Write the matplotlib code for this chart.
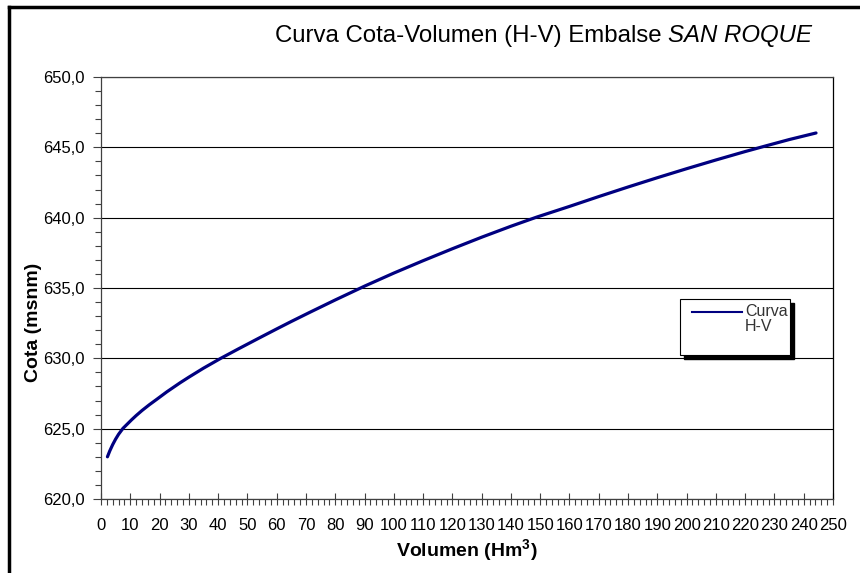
import numpy as np
import matplotlib.pyplot as plt
from matplotlib.ticker import MultipleLocator, FuncFormatter
from matplotlib.patches import Rectangle
from matplotlib.lines import Line2D

plt.rcParams['font.family'] = ['Liberation Sans', 'DejaVu Sans']
plt.rcParams['mathtext.fontset'] = 'custom'
plt.rcParams['mathtext.rm'] = 'Liberation Sans:bold'
plt.rcParams['mathtext.bf'] = 'Liberation Sans:bold'

# curva cota-volumen
volumen = [2.2, 3.0, 4.0, 5.0, 6.0, 7.5, 9.0, 10.5, 12.0, 14.0, 16.5, 19.0, 22.5, 27.0, 30.0,
           35.0, 40.9, 47.0, 53.6, 60.0, 65.0, 71.4, 80.0, 90.2, 100.0, 110.0, 120.0, 130.0,
           140.0, 148.8, 160.0, 170.0, 180.0, 190.0, 200.0, 210.0, 220.0, 227.0, 235.0, 244.2]
cota = [623.0, 623.42, 623.87, 624.26, 624.6, 625.02, 625.33, 625.64, 625.93, 626.29, 626.7,
        627.08, 627.62, 628.26, 628.66, 629.3, 630.0, 630.68, 631.4, 632.09, 632.62, 633.28,
        634.15, 635.15, 636.06, 636.94, 637.79, 638.61, 639.39, 640.04, 640.8, 641.5, 642.18,
        642.84, 643.48, 644.1, 644.7, 645.1, 645.55, 646.02]

W, H = 860, 573
fig = plt.figure(figsize=(W / 100, H / 100), dpi=100)
ax = fig.add_axes([101 / W, 1 - 499 / H, (833 - 101) / W, (499 - 77) / H])

ax.plot(volumen, cota, color='#000080', lw=2.3, solid_capstyle='round',
        solid_joinstyle='round', zorder=3)

ax.set_xlim(0, 250)
ax.set_ylim(620, 650)
ax.xaxis.set_major_locator(MultipleLocator(10))
ax.xaxis.set_minor_locator(MultipleLocator(2))
ax.yaxis.set_major_locator(MultipleLocator(5))
ax.yaxis.set_minor_locator(MultipleLocator(1))
ax.yaxis.set_major_formatter(FuncFormatter(lambda v, p: f'{v:.1f}'.replace('.', ',')))
ax.yaxis.grid(True, which='major', color='black', lw=0.8)
ax.set_axisbelow(True)

ax.tick_params(axis='x', which='major', direction='inout', length=8, width=0.8,
               labelsize=12, pad=10, color='#404040')
ax.tick_params(axis='x', which='minor', direction='out', length=4, width=0.8, color='#404040')
ax.tick_params(axis='y', which='major', direction='out', length=6, width=0.8,
               labelsize=12, pad=6, color='#404040')
ax.tick_params(axis='y', which='minor', direction='out', length=4, width=0.8, color='#404040')
for s in ['left', 'bottom', 'top']:
    ax.spines[s].set_color('#404040')
ax.spines['right'].set_color('black')
for s in ax.spines.values():
    s.set_linewidth(0.9)

fig.text(467 / W, 1 - 551 / H, r'Volumen (Hm$^{3}$)', fontsize=14, fontweight='bold',
         ha='center', va='center')
fig.text(33 / W, 1 - 322 / H, 'Cota (msnm)', rotation=90, fontsize=14, fontweight='bold',
         ha='center', va='center')

t1 = fig.text(275 / W, 1 - 36 / H, 'Curva Cota-Volumen (H-V) Embalse ', fontsize=17.3,
              ha='left', va='center')
ax.annotate('SAN ROQUE', xy=(1, 0), xycoords=t1, fontsize=17.3, style='italic',
            ha='left', va='bottom', annotation_clip=False)

# leyenda con sombra
fig.patches.append(Rectangle((684 / W, 1 - 359 / H), 110 / W, 56 / H, transform=fig.transFigure,
                             facecolor='black', edgecolor='black', zorder=5))
fig.patches.append(Rectangle((680 / W, 1 - 355 / H), 110 / W, 56 / H, transform=fig.transFigure,
                             facecolor='white', edgecolor='black', lw=0.8, zorder=6))
fig.lines.append(Line2D([692 / W, 742 / W], [1 - 312 / H, 1 - 312 / H], transform=fig.transFigure,
                        color='#000080', lw=1.5, zorder=7))
fig.text(745 / W, 1 - 304 / H, 'Curva\nH-V', fontsize=11.5, color='#333333',
         ha='left', va='top', linespacing=1.0, zorder=8)

# marco del grafico
fig.lines.append(Line2D([9 / W, 1.0], [1 - 7 / H, 1 - 7 / H], transform=fig.transFigure,
                        color='black', lw=2.5))
fig.lines.append(Line2D([9 / W, 9 / W], [0.0, 1 - 7 / H], transform=fig.transFigure,
                        color='black', lw=2.5))

fig.savefig('out.png', dpi=100)
